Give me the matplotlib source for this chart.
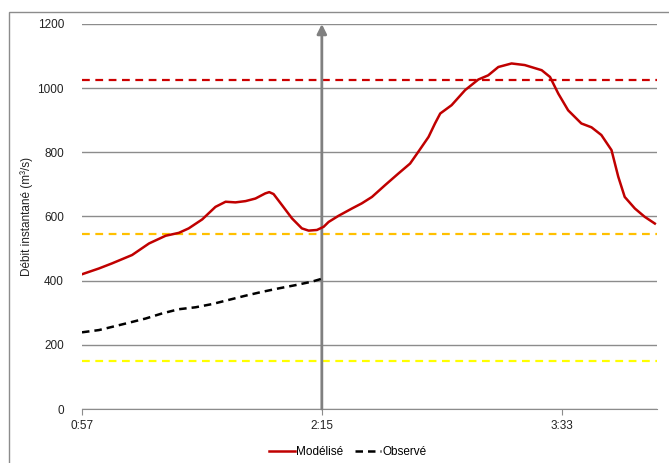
import matplotlib.pyplot as plt
import numpy as np
from matplotlib.patches import Rectangle

plt.rcParams['font.family'] = ['Liberation Sans', 'DejaVu Sans']

# time in minutes since midnight
t_mod = [57, 62.5, 66.8, 73.3, 78.8, 84.2, 88.5, 91.7, 96.1, 100.4, 103.7, 106.9,
         110.2, 113.4, 116.6, 117.9, 119.3, 122.0, 125.3, 128.5, 130.7, 133.4,
         135.6, 137.2, 140.4, 144.8, 148.0, 151.3, 155.6, 159.9, 163.7, 166.4,
         169.7, 171.8, 173.5, 177.2, 181.6, 185.9, 189.1, 192.4, 196.7, 201.0,
         206.5, 209.2, 211.9, 215.1, 219.4, 222.7, 225.9, 229.2, 231.4, 233.5,
         236.8, 240.0, 243.3]
q_mod = [420, 438, 454, 480, 516, 540, 549, 563, 591, 630, 646, 644,
         648, 656, 672, 676, 670, 636, 594, 563, 556, 558,
         568, 583, 602, 625, 641, 661, 698, 734, 765, 802,
         848, 890, 921, 947, 994, 1027, 1040, 1066, 1077, 1072,
         1056, 1035, 983, 931, 890, 878, 854, 807, 724, 661,
         625, 599, 578]

t_obs = [57, 62.5, 66.8, 72.3, 77.7, 83.1, 88.5, 93.9, 99.3, 104.7, 110.1,
         115.5, 121.0, 126.4, 131.8, 135]
q_obs = [239, 246, 256, 269, 282, 298, 311, 317, 327, 340, 353,
         365, 376, 386, 397, 406]

seuils = [1027, 544, 150]
seuil_colors = ['#cc0000', '#ffc000', '#ffff00']

t_now = 135
xticks = [57, 135, 213]
xticklabels = ['0:57', '2:15', '3:33']

fig = plt.figure(figsize=(6.69, 4.63), dpi=100)
ax = fig.add_axes([82 / 669, 1 - 409 / 463, (657 - 82) / 669, (409 - 24) / 463])

# chart border
fig.patches.append(Rectangle((9 / 669, -0.1), 1.2, 1 - 12 / 463 + 0.1, transform=fig.transFigure,
                             fill=False, edgecolor='#8c8c8c', linewidth=1))

for v, c in zip(seuils, seuil_colors):
    ax.axhline(v, color=c, linestyle=(0, (3.5, 2.5)), linewidth=1.6, zorder=2)

ax.plot(t_mod, q_mod, color='#c00000', linewidth=1.8, label='Modélisé', zorder=4,
        solid_joinstyle='round')
ax.plot(t_obs, q_obs, color='black', linewidth=1.8, linestyle=(0, (3, 2)), label='Observé', zorder=4)

ax.annotate('', xy=(t_now, 1200), xytext=(t_now, 0),
            arrowprops=dict(arrowstyle='-|>', color='#808080', lw=2, mutation_scale=14,
                            shrinkA=0, shrinkB=0), zorder=3)

ax.set_xlim(57, 244)
ax.set_ylim(0, 1200)
ax.set_yticks(np.arange(0, 1201, 200))
ax.set_xticks(xticks)
ax.set_xticklabels(xticklabels)
ax.grid(axis='y', color='#8c8c8c', linewidth=1)
ax.set_axisbelow(True)

for s in ['top', 'right', 'left']:
    ax.spines[s].set_visible(False)
ax.spines['bottom'].set_color('#8c8c8c')
ax.tick_params(axis='x', colors='#8c8c8c', labelcolor='#222222', labelsize=8.5, length=4, pad=4)
ax.tick_params(axis='y', length=0, labelcolor='#222222', labelsize=8.5, pad=13)

ax.set_ylabel('Débit instantané (m³/s)', fontsize=8.5, color='#222222')
ax.yaxis.set_label_coords(-0.085, 0.5)

fig.legend(loc='center', bbox_to_anchor=(348 / 669, 1 - 452 / 463), ncol=2, frameon=False,
           fontsize=8.5, handlelength=2.2, handletextpad=0.1, columnspacing=1.0)

fig.savefig('out.png', dpi=100)
